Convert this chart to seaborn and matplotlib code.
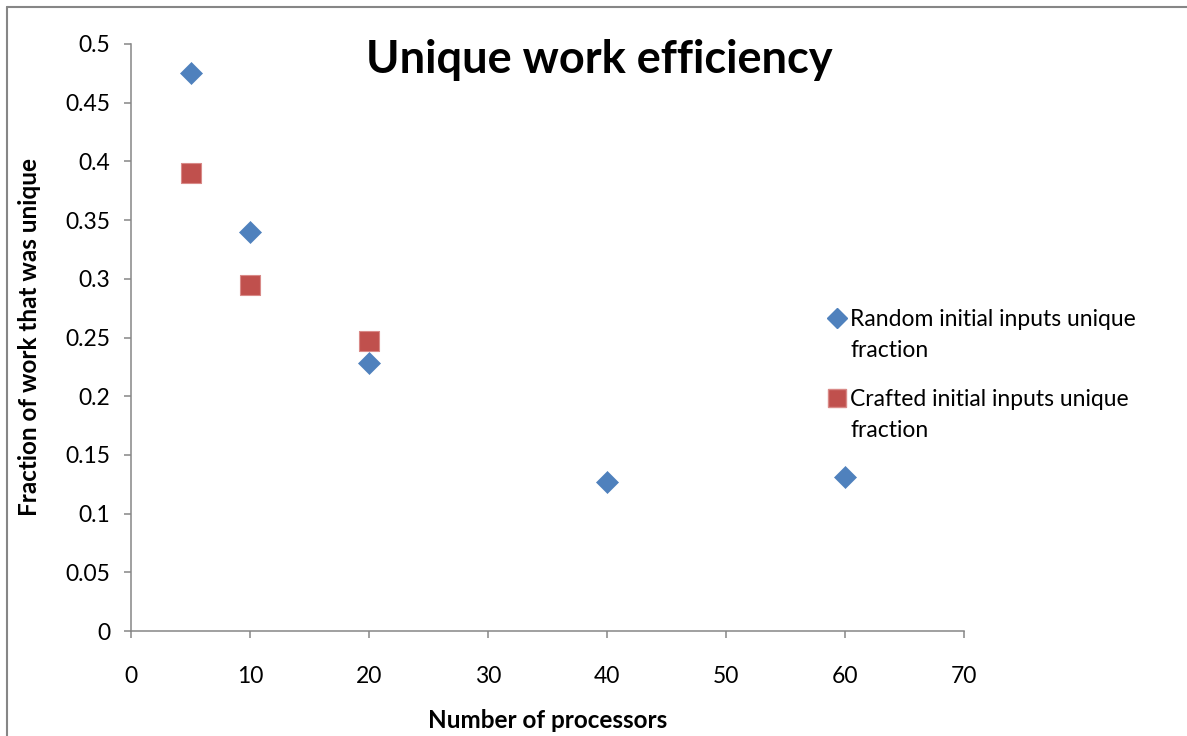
import matplotlib
matplotlib.use("Agg")
import matplotlib.pyplot as plt
from matplotlib.lines import Line2D
import seaborn as sns
import pandas as pd

# Unique-work fraction by processor count
random_procs = [5, 10, 20, 40, 60]
random_frac = [0.475, 0.340, 0.228, 0.127, 0.131]
crafted_procs = [5, 10, 20]
crafted_frac = [0.390, 0.295, 0.247]

series_first_lines = ["Random initial inputs unique",
                      "Crafted initial inputs unique"]
series_second_lines = ["fraction", "fraction"]
x_ticks = [0, 10, 20, 30, 40, 50, 60, 70]
y_ticks = [0, 0.05, 0.1, 0.15, 0.2, 0.25, 0.3, 0.35, 0.4, 0.45, 0.5]
y_tick_labels = ["0", "0.05", "0.1", "0.15", "0.2", "0.25", "0.3", "0.35",
                 "0.4", "0.45", "0.5"]

BLUE = "#4F81BD"
RED = "#C0504D"
GRID = "#868686"

sns.set_theme(style="white")
plt.rcParams["font.family"] = ["Lato", "DejaVu Sans"]
plt.rcParams["text.color"] = "black"
plt.rcParams["axes.labelcolor"] = "black"

W, H = 1187, 736
fig = plt.figure(figsize=(W / 100, H / 100), dpi=100)
ax = fig.add_axes([131 / W, 1 - 631 / H, (964 - 131) / W, (631 - 44) / H])

rand_df = pd.DataFrame({"procs": random_procs, "frac": random_frac})
craft_df = pd.DataFrame({"procs": crafted_procs, "frac": crafted_frac})

sns.scatterplot(data=rand_df, x="procs", y="frac", ax=ax, marker="D",
                s=125, color=BLUE, edgecolor=BLUE, linewidth=0.5, zorder=3)
sns.scatterplot(data=craft_df, x="procs", y="frac", ax=ax, marker="s",
                s=200, color=RED, edgecolor="#D98A88", linewidth=0.8, zorder=3)

ax.set_xlim(0, 70)
ax.set_ylim(0, 0.5)
ax.set_xticks(x_ticks)
ax.set_yticks(y_ticks)
ax.set_yticklabels(y_tick_labels)
ax.tick_params(axis="both", which="major", labelsize=16.5, colors=GRID,
               labelcolor="black", direction="out", length=5, width=1.1,
               left=True, bottom=True)
ax.tick_params(axis="x", pad=20)
ax.tick_params(axis="y", pad=10)

for side in ["top", "right"]:
    ax.spines[side].set_visible(False)
for side in ["left", "bottom"]:
    ax.spines[side].set_color(GRID)
    ax.spines[side].set_linewidth(1.1)
ax.set_xlabel("")
ax.set_ylabel("")
ax.grid(False)

fig.text(599 / W, 1 - 60 / H, "Unique work efficiency", ha="center",
         va="center", fontsize=32.5, fontweight="bold", color="black")
fig.text(548 / W, 1 - 720 / H, "Number of processors", ha="center",
         va="center", fontsize=17.5, fontweight="bold", color="black")
fig.text(30 / W, 1 - 337 / H, "Fraction of work that was unique",
         ha="center", va="center", rotation=90, fontsize=17.5,
         fontweight="bold", color="black")

handles = [
    Line2D([], [], linestyle="none", marker="D", markersize=10.5,
           color=BLUE, markeredgecolor=BLUE),
    Line2D([], [], linestyle="none", marker="s", markersize=13.5,
           color=RED, markeredgecolor="#D98A88"),
]
leg = fig.legend(handles, series_first_lines, loc="upper left",
                 bbox_to_anchor=(828 / W, 1 - 309 / H), frameon=False,
                 fontsize=16.5, handlelength=0.8, handletextpad=0.18,
                 labelspacing=2.58, borderaxespad=0, borderpad=0)

# wrapped second line of each legend entry
fig.canvas.draw()
renderer = fig.canvas.get_renderer()
for txt, extra in zip(leg.get_texts(), series_second_lines):
    bb = txt.get_window_extent(renderer)
    fig.text(bb.x0 / W, (bb.y0 - 31) / H, extra, ha="left", va="bottom",
             fontsize=16.5, color="black")

# chart area border
fig.add_artist(Line2D([7 / W, 1.0], [1 - 7 / H, 1 - 7 / H],
                      transform=fig.transFigure, color=GRID, linewidth=1.5))
fig.add_artist(Line2D([7 / W, 7 / W], [0.0, 1 - 7 / H],
                      transform=fig.transFigure, color=GRID, linewidth=1.5))

fig.savefig("out.png", dpi=100)
